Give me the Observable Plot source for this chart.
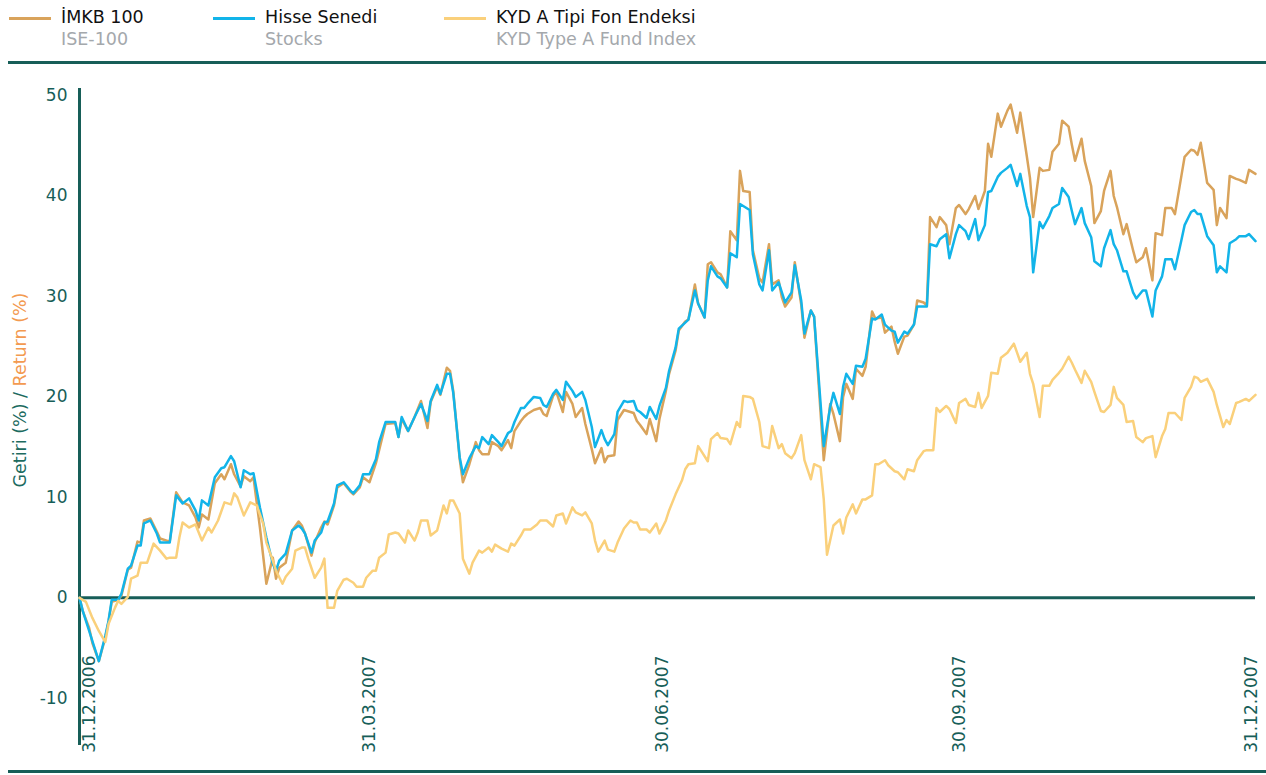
<!DOCTYPE html>
<html><head><meta charset="utf-8">
<script src="https://cdn.jsdelivr.net/npm/d3@7"></script>
<script src="https://cdn.jsdelivr.net/npm/@observablehq/plot@0.6"></script>
<style>
body{margin:0;background:#fff;font-family:"DejaVu Sans",sans-serif;}
#wrap{width:1266px;position:relative;}
#legend{position:relative;height:61px;font-size:17.5px;}
.item{position:absolute;top:0;height:61px;}
.sw{position:absolute;top:17px;left:0;width:42px;height:3px;}
.t1{position:absolute;left:52px;top:7px;color:#111;white-space:nowrap;}
.t2{position:absolute;left:52px;top:29px;color:#a4a8ac;white-space:nowrap;}
.rule{height:3px;background:#175e58;margin-left:8px;}
</style></head>
<body>
<div id="wrap">
  <div id="legend"></div>
  <div class="rule"></div>
  <div id="chart"></div>
  <div class="rule"></div>
</div>
<script>
// ---- data (days after 31.12.2006, returns in %) ----
const seriesNames = ["İMKB 100", "Hisse Senedi", "KYD A Tipi Fon Endeksi"];
const seriesSubNames = ["ISE-100", "Stocks", "KYD Type A Fund Index"];
const seriesColors = ["#d9a35b", "#12b4e9", "#fad07b"];
const tickLabels = ["31.12.2006", "31.03.2007", "30.06.2007", "30.09.2007", "31.12.2007"];
const yTicks = [-10, 0, 10, 20, 30, 40, 50];

const days = [0,1,3,4,6,8,9,10,12,13, 15,16,18,19,20,22,24,25,28,30, 32,34,36,37,38,40,42,44,45,47,
 48,50,51,53,54,56,58,60,61,62, 64,66,68,69,70,72,73,75,76,77, 79,80,82,84,85,87,88,90,92,93,
 95,98,99,100,102,104,106,108,109,111, 112,114,115,116,118,119,121,123,124,125, 127,128,130,131,133,134,135,137,138,139,
 141,143,144,145,147,148,150,151,153,154, 156,157,159,160,162,163,164,166,167,169, 170,172,173,174,176,177,179,180,182,183,
 185,186,188,189,191,192,194,195,196,198, 199,201,202,204,205,206,208,209,211,212, 214,215,217,218,219,221,222,224,225,227,
 228,231,233,234,236,237,238,240,241,243, 244,246,247,249,250,252,253,254,256,257, 259,260,262,263,264,266,267,269,270,272,
 273,275,276,278,279,281,282,283,285,286, 288,289,291,292,294,295,296,298,299,301, 302,304,305,307,308,309,311,312,314,315,
 317,318,320,321,322,324,325,327,328,330, 331,333,334,336,337,339,340,342,343,345, 346,347,348,350,352,353,354,356,357,359,
 360,362,363,365];

const stocks = [0,-1.3,-3.3,-4.3,-6.3,-3.8,-2.3,-0.2,-0.2,0.4, 2.9,3.2,5.2,5.2,7.4,7.7,6.4,5.5,5.5,10.2, 9.4,9.9,8.7,7.7,9.7,9.2,12.0,12.9,13.0,14.1,
 13.6,11.0,12.7,12.3,12.4,9.0,6.0,3.4,2.7,3.7, 4.4,6.7,7.2,6.9,6.4,4.5,5.7,6.5,7.5,7.6, 9.4,11.2,11.5,10.7,10.4,11.2,12.3,12.3,13.8,15.5,
 17.5,17.5,16.0,18.0,16.6,18.0,19.3,17.6,19.6,21.2, 20.3,22.3,22.3,20.4,14.0,12.3,13.9,15.1,14.9,16.0, 15.3,16.2,15.5,15.1,16.4,16.6,17.5,18.9,18.9,19.3,
 20.0,19.9,19.2,19.0,20.3,20.7,19.7,21.5,20.6,20.0, 20.5,19.7,17.0,15.0,16.7,15.8,15.2,16.3,18.5,19.6, 19.5,19.6,18.7,18.5,17.9,19.0,17.8,19.1,20.9,22.6,
 24.9,26.8,27.4,27.7,30.6,29.3,27.9,31.6,33.0,32.0, 31.8,30.9,34.3,33.9,39.2,39.0,38.6,34.2,31.2,30.6, 34.6,30.6,31.4,30.4,29.4,30.4,33.1,29.6,26.3,28.6,
 28.0,15.1,19.0,20.4,18.3,21.0,22.3,21.3,23.1,23.0, 23.8,27.8,27.7,28.2,27.2,26.6,26.5,25.4,26.5,26.3, 27.2,29.0,29.0,29.0,35.2,35.0,35.7,36.2,33.8,36.2,
 37.1,36.5,35.7,37.7,35.6,37.1,40.4,40.5,41.9,42.3, 42.8,43.1,41.0,42.2,39.0,37.9,32.4,37.4,36.8,38.0, 38.8,39.2,40.8,39.9,38.5,37.2,38.8,37.3,35.9,33.5,
 33.0,34.8,36.6,35.2,34.6,32.5,32.5,30.4,29.8,30.6, 30.6,28.0,30.6,32.0,33.7,33.7,32.7,35.6,37.1,38.4, 38.6,38.2,38.2,36.0,35.1,32.4,33.0,32.4,35.3,35.7,
 36.0,36.0,36.2,35.5];

const ise100 = [0,-1.3,-3.0,-4.5,-6.3,-4.0,-2.4,-0.4,-0.2,0.2, 2.8,3.0,5.6,5.5,7.7,7.9,6.6,5.9,5.6,10.5, 9.5,9.2,8.0,7.0,8.3,7.8,11.4,12.3,11.8,13.3,
 12.3,11.1,12.1,11.6,12.0,7.0,1.4,4.0,1.9,3.0, 3.5,6.7,7.6,7.2,6.4,4.2,5.5,7.0,7.6,7.3, 9.2,11.0,11.4,10.6,10.3,11.0,12.0,11.5,13.4,14.7,
 17.3,17.4,16.0,17.8,16.6,18.0,19.6,16.9,19.5,21.0, 20.2,22.9,22.6,20.6,13.8,11.5,13.3,15.5,14.7,14.3, 14.3,15.5,15.1,14.7,15.7,14.9,16.6,17.6,18.0,18.3,
 18.7,18.9,18.3,18.1,20.1,20.5,18.5,20.5,19.3,18.0, 18.9,17.3,14.8,13.4,14.9,13.5,14.1,14.2,17.7,18.7, 18.6,18.4,17.6,17.2,16.3,17.8,15.6,17.8,20.6,22.3,
 24.6,26.6,27.5,27.7,31.2,29.3,27.9,33.2,33.4,32.4, 32.2,30.9,36.5,35.6,42.5,40.5,40.4,34.6,31.8,31.4, 35.2,31.2,31.6,29.9,29.0,29.9,33.4,29.2,25.9,28.6,
 28.0,13.7,19.3,18.3,15.6,20.0,21.3,19.8,22.8,22.1, 23.0,28.5,27.8,27.9,26.4,27.0,25.5,24.3,26.0,26.1, 27.2,29.6,29.4,29.1,37.9,36.9,37.9,37.1,35.2,38.8,
 39.1,38.2,38.7,40.0,38.7,40.5,45.2,43.9,48.2,46.9, 48.5,49.1,46.3,48.3,44.0,41.8,37.9,42.8,42.5,42.6, 44.4,45.2,47.5,46.9,45.1,43.5,45.7,43.5,41.0,37.3,
 38.5,40.5,42.5,40.0,38.9,36.2,37.2,34.6,33.4,33.9, 34.8,31.6,36.3,36.1,38.8,38.8,38.2,42.0,43.9,44.6, 44.5,44.1,45.3,41.3,40.6,37.1,38.8,37.8,42.0,41.7,
 41.6,41.3,42.6,42.2];

const kydDays = [0,2,4,6,8,9,11,12,13,15, 16,18,19,21,23,25,27,28,30,31, 32,34,36,38,40,41,43,45,47,48,
 49,51,53,55,57,58,60,61,63,64, 66,67,69,70,71,73,75,76,77,79, 80,82,83,85,86,88,89,91,92,93,
 95,96,98,99,101,102,104,105,106,108, 109,111,113,114,115,116,118,119,121,122, 124,125,127,128,129,131,133,134,135,137,
 138,140,142,143,145,147,148,150,151,153, 154,156,157,159,160,161,163,164,166,167, 169,171,172,173,174,176,177,179,180,182,
 183,185,187,188,189,191,192,193,195,196, 198,199,201,202,204,205,206,208,209,211, 212,214,215,217,218,219,221,222,224,225,
 227,228,230,231,232,234,236,237,238,240, 241,243,244,246,247,248,250,251,253,254, 256,257,259,260,262,263,265,266,267,269,
 270,272,273,275,276,278,279,280,282,283, 285,286,288,290,292,294,295,296,298,299, 301,302,304,305,307,308,309,311,312,314,
 315,317,318,320,321,322,324,325,327,328, 330,331,333,334,336,337,338,340,342,343, 345,346,347,348,350,352,353,355,356,357,
 359,360,362,363,365];

const kyd = [0,-0.4,-2.0,-3.3,-4.4,-2.6,-1.0,-0.3,-0.6,0.1, 1.9,2.2,3.5,3.5,5.4,4.7,3.9,4.0,4.0,6.0, 7.5,7.0,7.3,5.7,7.0,6.5,7.7,9.5,9.3,10.4,
 10.0,8.2,9.5,9.2,7.4,5.5,3.7,2.7,1.4,2.1, 2.9,4.7,5.0,5.0,3.9,2.0,3.0,3.9,-1.0,-1.0, 0.7,1.8,1.9,1.5,1.1,1.1,2.0,2.7,2.7,4.0,
 4.5,6.3,6.5,6.4,5.5,6.7,5.7,6.5,7.7,7.7, 6.2,6.7,9.2,8.4,9.7,9.7,8.4,3.9,2.4,3.5, 4.7,4.5,5.0,4.6,5.3,4.9,4.6,5.4,5.2,6.2,
 6.8,6.8,7.3,7.7,7.7,7.1,8.2,8.4,7.4,9.0, 8.5,8.2,8.5,7.4,5.7,4.6,5.7,4.8,4.6,5.5, 6.9,7.7,7.5,7.5,6.8,6.8,6.5,7.4,6.4,7.7,
 8.7,10.3,11.7,12.8,13.3,13.4,15.1,14.6,13.6,15.8, 16.4,15.9,15.8,15.3,17.5,17.0,20.1,20.0,19.8,17.5, 15.1,14.9,17.1,14.9,15.3,14.4,13.9,14.4,16.2,13.7,
 11.8,13.3,13.0,9.8,4.3,7.2,7.8,6.4,8.0,9.3, 8.4,9.8,9.8,10.2,13.3,13.3,13.7,13.2,12.6,12.5, 11.8,12.8,12.6,13.7,14.6,14.7,14.7,18.9,18.5,19.1,
 18.8,17.4,19.4,19.8,19.2,19.0,20.4,18.9,20.1,22.4, 22.3,23.9,24.4,25.3,23.5,24.4,22.3,21.3,18.0,21.1, 21.1,21.7,22.4,22.8,24.0,23.4,22.7,21.4,22.6,21.5,
 20.5,18.6,18.5,19.2,21.0,19.9,19.2,17.5,17.6,16.0, 15.5,15.9,16.1,14.0,16.1,16.8,18.4,18.4,17.7,19.9, 21.0,22.0,21.9,21.5,21.8,20.5,19.2,17.0,17.7,17.3,
 19.4,19.5,19.8,19.6,20.2];

// ---- legend ----
const legendLeft = [9, 213, 444];
const legend = d3.select("#legend");
seriesNames.forEach((name, i) => {
  const it = legend.append("div").attr("class", "item").style("left", legendLeft[i] + "px");
  it.append("div").attr("class", "sw").style("background", seriesColors[i]);
  it.append("div").attr("class", "t1").text(name);
  it.append("div").attr("class", "t2").text(seriesSubNames[i]);
});

// ---- chart ----
const teal = "#175e58";
const parseTick = s => { const [dd, mm, yy] = s.split("."); return new Date(Date.UTC(+yy, +mm - 1, +dd)); };
const start = parseTick(tickLabels[0]);
const end = parseTick(tickLabels[tickLabels.length - 1]);
const toDate = d => new Date(start.getTime() + d * 864e5);
const iseData = days.map((d, i) => ({date: toDate(d), v: ise100[i]}));
const stockData = days.map((d, i) => ({date: toDate(d), v: stocks[i]}));
const kydData = kydDays.map((d, i) => ({date: toDate(d), v: kyd[i]}));

const labelOpts = {x: parseTick, text: s => s, frameAnchor: "bottom", rotate: -90, textAnchor: "end",
  dy: -90, fill: teal, fontSize: 17};

const chart = Plot.plot({
  width: 1266, height: 706,
  marginLeft: 79, marginRight: 11, marginTop: 24, marginBottom: 25,
  style: {fontFamily: "DejaVu Sans", fontSize: "17px", background: "transparent", overflow: "visible"},
  x: {type: "utc", domain: [start, end], axis: null},
  y: {domain: [-14.7, 50.7], axis: null},
  marks: [
    Plot.ruleY([0], {stroke: teal, strokeWidth: 3}),
    Plot.ruleX([start], {stroke: teal, strokeWidth: 3}),
    Plot.axisY(yTicks, {anchor: "left", tickSize: 0, tickPadding: 12, fill: teal, fontSize: 17,
      tickFormat: d => String(d), label: null}),
    Plot.text(tickLabels.slice(0, 1), {...labelOpts, lineAnchor: "top", dx: 3}),
    Plot.text(tickLabels.slice(1, -1), {...labelOpts, lineAnchor: "middle"}),
    Plot.text(tickLabels.slice(-1), {...labelOpts, lineAnchor: "middle", dx: -4}),
    Plot.line(iseData, {x: "date", y: "v", stroke: seriesColors[0], strokeWidth: 2.5}),
    Plot.line(stockData, {x: "date", y: "v", stroke: seriesColors[1], strokeWidth: 2.5}),
    Plot.line(kydData, {x: "date", y: "v", stroke: seriesColors[2], strokeWidth: 2.5})
  ]
});
document.getElementById("chart").appendChild(chart);

const svg = d3.select(chart.tagName.toLowerCase() === "svg" ? chart : chart.querySelector("svg"));
const title = svg.append("text")
  .attr("transform", "translate(20,326) rotate(-90)")
  .attr("text-anchor", "middle").attr("dy", "0.35em")
  .style("font-family", "DejaVu Sans").style("font-size", "17.5px");
title.append("tspan").attr("fill", "#1d6b5f").text("Getiri (%) / ");
title.append("tspan").attr("fill", "#f39a50").text("Return (%)");
</script>
</body></html>
